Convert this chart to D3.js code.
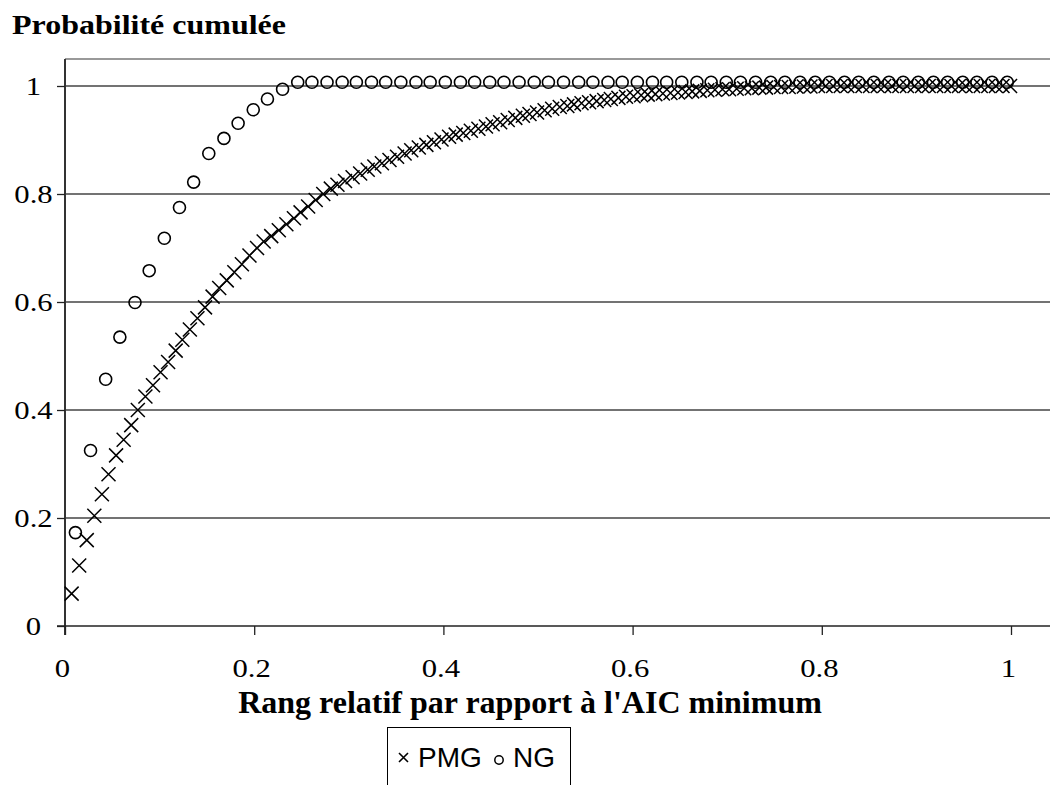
<!DOCTYPE html>
<html>
<head>
<meta charset="utf-8">
<script src="https://cdn.jsdelivr.net/npm/d3@7"></script>
<style>
html,body{margin:0;padding:0;background:#fff;}
svg{display:block;}
</style>
</head>
<body>
<svg id="chart" width="1050" height="785"></svg>
<script>
// ---- data ----
const ngRank = [0.011,0.027,0.043,0.058,0.074,0.089,0.105,0.121,0.136,0.152,0.168,0.183,0.199,0.214,0.230,0.246,
0.261,0.277,0.293,0.308,0.324,0.339,0.355,0.371,0.386,0.402,0.418,0.433,0.449,0.464,0.480,0.496,
0.511,0.527,0.543,0.558,0.574,0.589,0.605,0.621,0.636,0.652,0.668,0.683,0.699,0.714,0.730,0.746,
0.761,0.777,0.793,0.808,0.824,0.839,0.855,0.871,0.886,0.902,0.918,0.933,0.949,0.964,0.980,0.996];
const ngProb = [0.173,0.325,0.457,0.535,0.599,0.658,0.718,0.775,0.822,0.875,0.903,0.931,0.956,0.976,0.994,1.007,
1.007,1.007,1.007,1.007,1.007,1.007,1.007,1.007,1.007,1.007,1.007,1.007,1.007,1.007,1.007,1.007,
1.007,1.007,1.007,1.007,1.007,1.007,1.007,1.007,1.007,1.007,1.007,1.007,1.007,1.007,1.007,1.007,
1.007,1.007,1.007,1.007,1.007,1.007,1.007,1.007,1.007,1.007,1.007,1.007,1.007,1.007,1.007,1.007];

const pmgRank = [0.007,0.015,0.023,0.031,0.039,0.046,0.054,0.062,0.070,0.077,0.085,0.093,0.101,0.109,0.117,0.124,
0.132,0.140,0.148,0.156,0.163,0.171,0.179,0.187,0.195,0.203,0.210,0.218,0.226,0.234,0.242,0.249,
0.257,0.265,0.273,0.281,0.288,0.296,0.304,0.312,0.320,0.327,0.335,0.343,0.351,0.359,0.366,0.374,
0.382,0.390,0.398,0.406,0.413,0.421,0.429,0.437,0.445,0.452,0.460,0.468,0.476,0.484,0.491,0.499,
0.507,0.515,0.523,0.531,0.538,0.546,0.554,0.562,0.570,0.577,0.585,0.593,0.601,0.609,0.616,0.624,
0.632,0.640,0.648,0.656,0.663,0.671,0.679,0.687,0.695,0.702,0.710,0.718,0.726,0.734,0.741,0.749,
0.757,0.765,0.773,0.781,0.788,0.796,0.804,0.812,0.820,0.827,0.835,0.843,0.851,0.859,0.866,0.874,
0.882,0.890,0.898,0.906,0.913,0.921,0.929,0.937,0.945,0.952,0.960,0.968,0.976,0.984,0.991,0.999];
const pmgProb = [0.060,0.112,0.159,0.204,0.244,0.281,0.316,0.345,0.372,0.400,0.425,0.446,0.470,0.489,0.510,0.530,
0.549,0.570,0.590,0.610,0.626,0.640,0.655,0.670,0.686,0.700,0.712,0.722,0.733,0.744,0.755,0.766,
0.777,0.789,0.800,0.810,0.817,0.824,0.831,0.838,0.845,0.851,0.857,0.863,0.869,0.875,0.881,0.886,
0.891,0.896,0.901,0.906,0.910,0.913,0.917,0.921,0.925,0.929,0.933,0.937,0.941,0.945,0.948,0.951,
0.955,0.958,0.961,0.963,0.966,0.968,0.970,0.972,0.974,0.976,0.978,0.980,0.981,0.983,0.984,0.985,
0.986,0.987,0.988,0.989,0.990,0.991,0.992,0.993,0.994,0.994,0.995,0.996,0.996,0.997,0.997,0.998,
0.998,0.998,0.999,0.999,0.999,1.000,1.000,1.000,1.000,1.000,1.000,1.000,1.000,1.000,1.000,1.000,
1.000,1.000,1.000,1.000,1.000,1.000,1.000,1.000,1.000,1.000,1.000,1.000,1.000,1.000,1.000,1.000];

const xTicks = [0,0.2,0.4,0.6,0.8,1];
const yTicks = [0,0.2,0.4,0.6,0.8,1];
const xTickLabels = ["0","0.2","0.4","0.6","0.8","1"];
const yTickLabels = ["0","0.2","0.4","0.6","0.8","1"];
const seriesNames = ["PMG","NG"];
const yTitle = "Probabilité cumulée";
const xTitle = "Rang relatif par rapport à l'AIC minimum";

// ---- layout ----
const svg = d3.select("#chart");
const x = d3.scaleLinear().domain([0,1]).range([65,1011]);
const y = d3.scaleLinear().domain([0,1]).range([626,86]);
const plotRight = 1050;
const plotTop = y(1.05);

const serif = "'Liberation Serif','Times New Roman',serif";
const sans = "'Liberation Sans',Arial,sans-serif";
const tickStretch = 1.18;

// gridlines
svg.append("g").selectAll("line").data(yTicks.filter(d=>d>0)).join("line")
  .attr("x1",x(0)).attr("x2",plotRight)
  .attr("y1",d=>y(d)).attr("y2",d=>y(d))
  .attr("stroke","#444").attr("stroke-width",1.3);

// top border
svg.append("line").attr("x1",x(0)).attr("x2",plotRight)
  .attr("y1",plotTop).attr("y2",plotTop)
  .attr("stroke","#999").attr("stroke-width",2);

// y axis
const yAxis = d3.axisLeft(y).tickValues(yTicks).tickSize(8).tickFormat((d,i)=>yTickLabels[i]);
const gy = svg.append("g").attr("transform",`translate(${x(0)},0)`).call(yAxis);
gy.select(".domain").attr("stroke","#333").attr("stroke-width",2)
  .attr("d",`M0,${plotTop}V${y(0)+9}`);
gy.selectAll(".tick line").attr("stroke","#222").attr("stroke-width",1.3);
gy.selectAll(".tick text").attr("font-family",serif).attr("font-size",26).attr("fill","#000")
  .attr("text-anchor","middle").attr("x",0).attr("dy","0.33em")
  .attr("transform",`translate(-31.5,0) scale(${tickStretch},1)`);

// x axis
const xAxis = d3.axisBottom(x).tickValues(xTicks).tickSize(9).tickFormat((d,i)=>xTickLabels[i]);
const gx = svg.append("g").attr("transform",`translate(0,${y(0)})`).call(xAxis);
gx.select(".domain").attr("stroke","#222").attr("stroke-width",1.6)
  .attr("d",`M${x(0)-8},0H${plotRight}`);
gx.selectAll(".tick line").attr("stroke","#222").attr("stroke-width",1.3);
gx.selectAll(".tick text").attr("font-family",serif).attr("font-size",26).attr("fill","#000")
  .attr("y",51).attr("dy",0)
  .attr("transform",`translate(-3,0) scale(${tickStretch},1)`);

// markers
const crossPath = (s)=>`M${-s},${-s}L${s},${s}M${-s},${s}L${s},${-s}`;

svg.append("g").selectAll("circle").data(ngRank.map((r,i)=>[r,ngProb[i]])).join("circle")
  .attr("cx",d=>x(d[0])).attr("cy",d=>y(d[1])).attr("r",6)
  .attr("fill","none").attr("stroke","#000").attr("stroke-width",1.6);

svg.append("g").selectAll("path").data(pmgRank.map((r,i)=>[r,pmgProb[i]])).join("path")
  .attr("transform",d=>`translate(${x(d[0])},${y(d[1])})`)
  .attr("d",crossPath(7))
  .attr("fill","none").attr("stroke","#000").attr("stroke-width",1.5);

// titles
svg.append("text").attr("x",12).attr("y",34).text(yTitle)
  .attr("textLength",274).attr("lengthAdjust","spacingAndGlyphs")
  .attr("font-family",serif).attr("font-weight","bold").attr("font-size",27).attr("fill","#000");
svg.append("text").attr("x",530).attr("y",713).attr("text-anchor","middle").text(xTitle)
  .attr("font-family",serif).attr("font-weight","bold").attr("font-size",32).attr("fill","#000");

// legend
const lg = svg.append("g");
lg.append("rect").attr("x",387.5).attr("y",727.5).attr("width",183).attr("height",80)
  .attr("fill","#fff").attr("stroke","#000").attr("stroke-width",1);
lg.append("path").attr("transform","translate(403.5,757.5)").attr("d",crossPath(4.5))
  .attr("stroke","#000").attr("stroke-width",1.6).attr("fill","none");
lg.append("text").attr("x",418).attr("y",767).text(seriesNames[0])
  .attr("font-family",sans).attr("font-size",28).attr("fill","#000");
lg.append("circle").attr("cx",499).attr("cy",760).attr("r",4.2)
  .attr("fill","none").attr("stroke","#000").attr("stroke-width",1.5);
lg.append("text").attr("x",513).attr("y",767).text(seriesNames[1])
  .attr("font-family",sans).attr("font-size",28).attr("fill","#000");
</script>
</body>
</html>
